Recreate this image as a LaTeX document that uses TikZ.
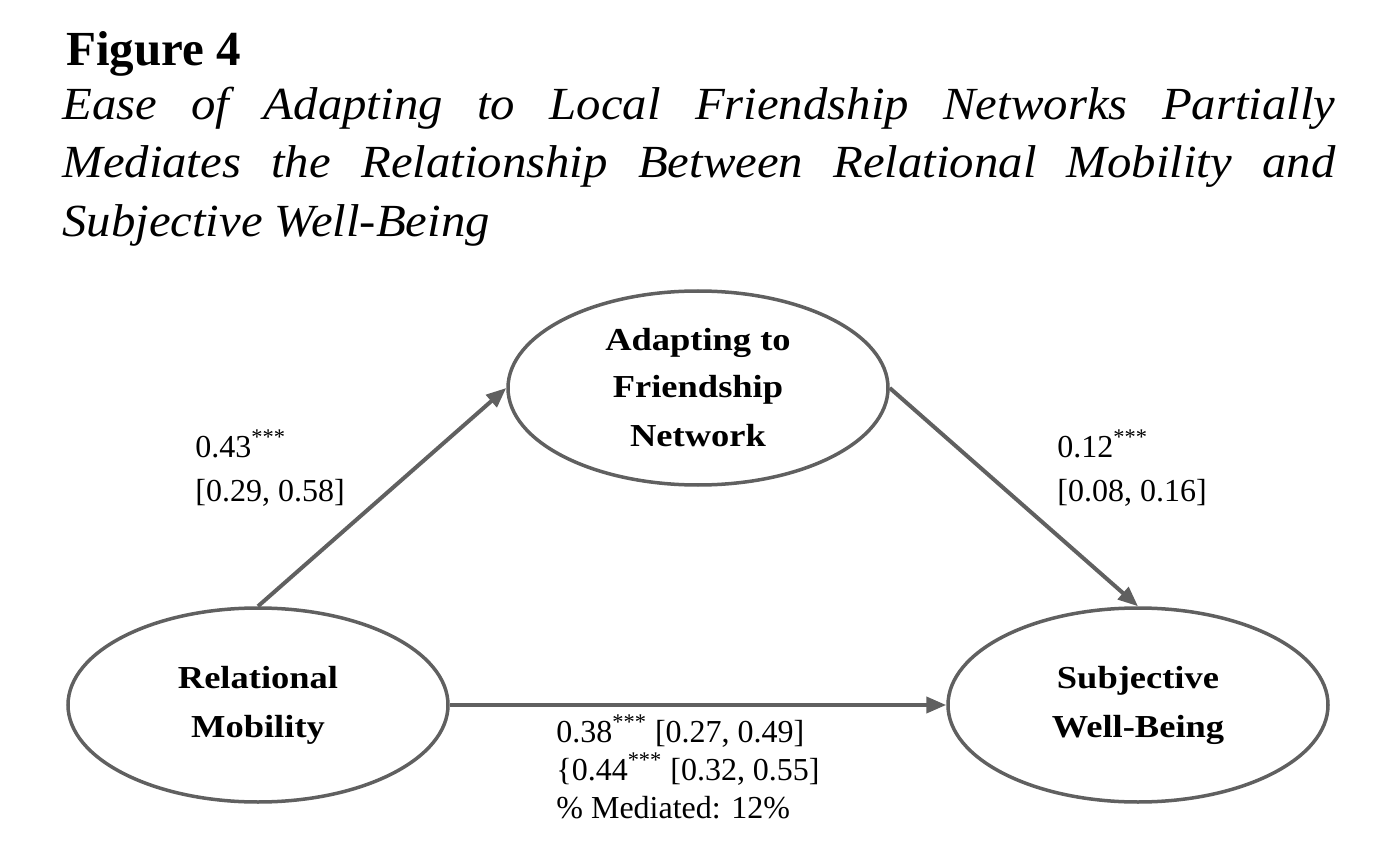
\documentclass[tikz,border=0pt]{standalone}
\usepackage{fontspec}
\setmainfont{Liberation Serif}
\newfontfamily\nodefont[FakeStretch=1.14]{Liberation Serif}
\newfontfamily\capfont[FakeStretch=1.06]{Liberation Serif}
\usetikzlibrary{arrows.meta,shapes.geometric}
\definecolor{linegray}{HTML}{606060}
\begin{document}
\begin{tikzpicture}[x=0.5pt,y=-0.5pt,
  ell/.style={draw=linegray, line width=1.75pt, ellipse, minimum width=190pt, minimum height=97pt, inner sep=0pt, align=center, font=\nodefont\bfseries\fontsize{16}{24.5}\selectfont},
  arr/.style={draw=linegray, line width=2pt, -{Triangle[length=10pt,width=8pt]}},
  lab/.style={anchor=base west, inner sep=0pt, font=\fontsize{16}{19}\selectfont},
  captxt/.style={anchor=base west, inner sep=0pt, font=\capfont\itshape\fontsize{23}{26}\selectfont}
]
\useasboundingbox (0,0) rectangle (1382,850);
% title and caption
\node[anchor=base west, inner sep=0pt, font=\bfseries\fontsize{24.5}{28}\selectfont] (title) at (66,66) {Figure 4};
\node[captxt] (cap1) at (62,120) {\makebox[636.5pt][s]{Ease of Adapting to Local Friendship Networks Partially}};
\node[captxt] (cap2) at (62,178) {\makebox[636.5pt][s]{Mediates the Relationship Between Relational Mobility and}};
\node[captxt] (cap3) at (62,237) {Subjective Well-Being};
% ellipses
\node[ell] (top) at (698,388) {\raisebox{-1pt}{Adapting to}\\Friendship\\Network};
\node[ell] (left) at (258,705) {Relational\\Mobility};
\node[ell] (right) at (1138,705) {Subjective\\Well-Being};
% connectors
\draw[arr] (left.north) -- (top.west);
\draw[arr] (top.east) -- (right.north);
\draw[arr] (left.east) -- (right.west);
% labels
\node[lab] (a1) at (195,457) {0.43\textsuperscript{***}};
\node[lab] (a2) at (195,501) {[0.29, 0.58]};
\node[lab] (b1) at (1057,457) {0.12\textsuperscript{***}};
\node[lab] (b2) at (1057,501) {[0.08, 0.16]};
\node[lab] (c1) at (556,742) {0.38\textsuperscript{***} [0.27, 0.49]};
\node[lab] (c2) at (556,780) {\{0.44\textsuperscript{***} [0.32, 0.55]};
\node[lab] (c3) at (556,818) {\% Mediated: 12\%};
\end{tikzpicture}
\end{document}
